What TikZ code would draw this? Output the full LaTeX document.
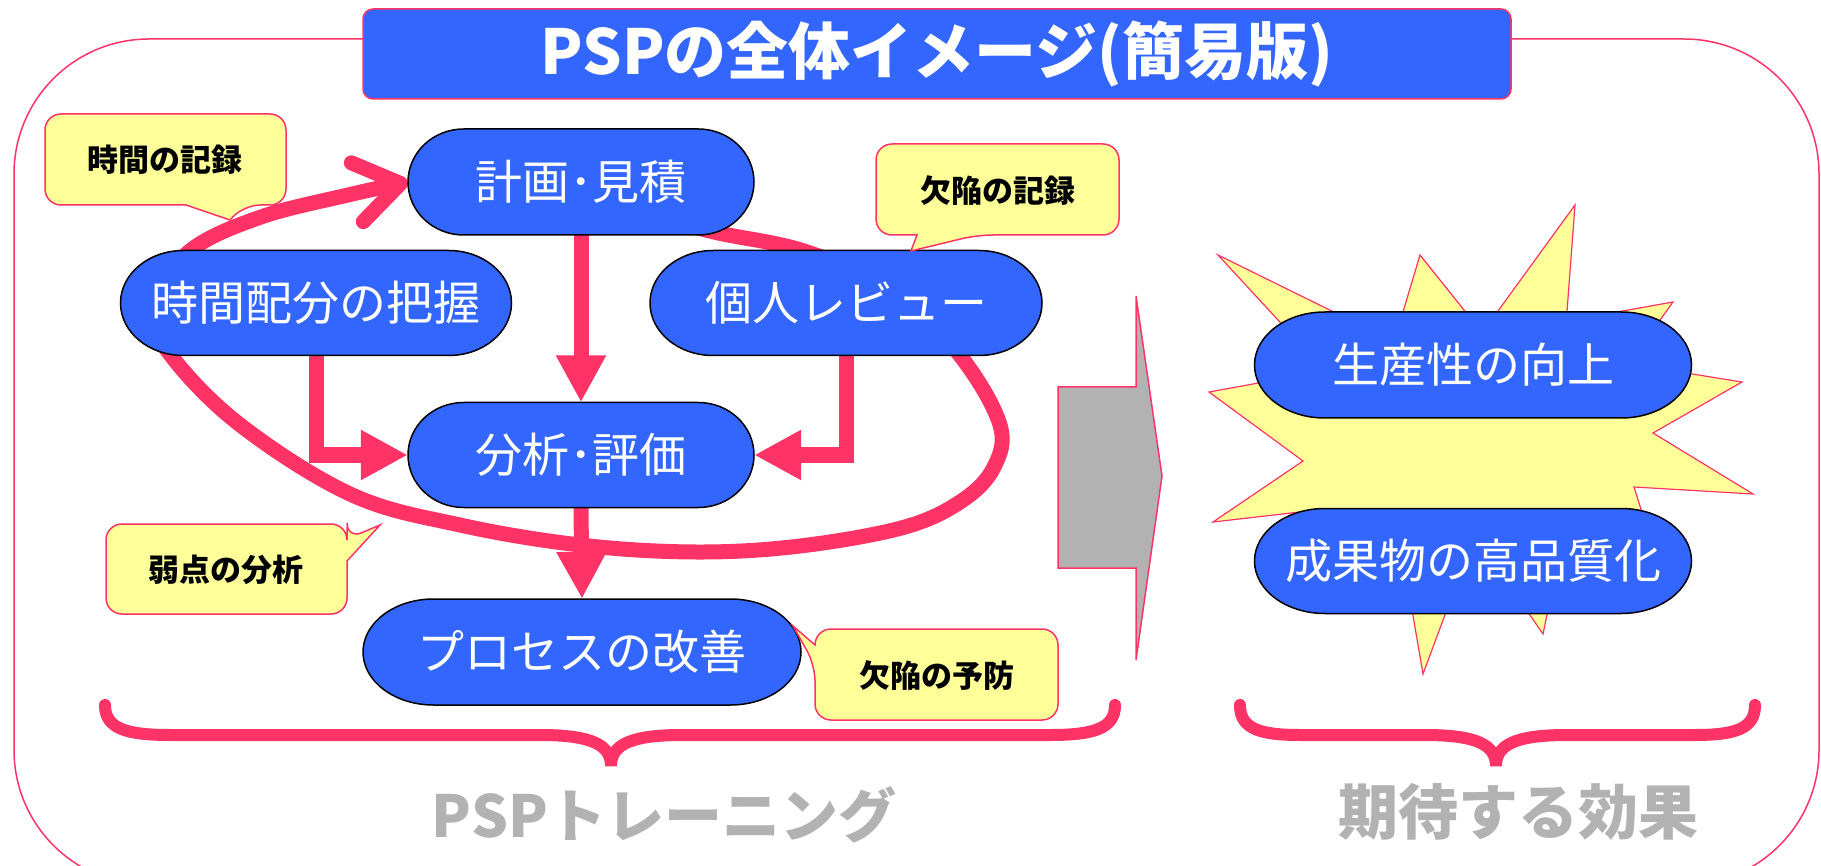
\documentclass[tikz,border=0pt]{standalone}
\usepackage{fontspec}
\setmainfont{Noto Sans CJK JP}
\usetikzlibrary{arrows.meta}
\definecolor{nblue}{HTML}{3366FF}
\definecolor{npink}{HTML}{FF3366}
\definecolor{nyellow}{HTML}{FFFF99}
\definecolor{ngray}{HTML}{B2B2B2}
\pgfdeclarelayer{bg}
\pgfsetlayers{bg,main}
% terminator-shaped node: name, cx, cy, w, h, text
\newcommand\termnode[6]{%
  \pgfmathsetmacro\TmRx{0.161*#4}%
  \pgfmathsetmacro\TmXa{#2-#4/2+\TmRx}%
  \pgfmathsetmacro\TmXb{#2+#4/2-\TmRx}%
  \pgfmathsetmacro\TmYa{#3-#5/2}%
  \pgfmathsetmacro\TmYb{#3+#5/2}%
  \pgfmathsetmacro\TmH{#5/2}%
  \draw[termshape] (\TmXa,\TmYa) -- (\TmXb,\TmYa)
     arc[start angle=-90,end angle=90,x radius=\TmRx,y radius=\TmH]
     -- (\TmXa,\TmYb)
     arc[start angle=90,end angle=270,x radius=\TmRx,y radius=\TmH] -- cycle;
  \node[termtext, minimum width=#4, minimum height=#5] (#1) at (#2,#3) {#6};
}
\begin{document}
\begin{tikzpicture}[x=1pt,y=-1pt,
  termshape/.style={draw=black, line width=1.5pt, fill=nblue},
  termtext/.style={text=white, font=\fontsize{47}{50}\selectfont, inner sep=0pt},
  callbox/.style={draw=npink, line width=1.5pt, fill=nyellow, rounded corners=16pt},
  calltext/.style={text=black, font=\fontsize{31}{36}\selectfont\bfseries, inner sep=0pt},
  conn/.style={draw=npink, line width=15pt, -{Triangle[length=47pt,width=47pt]}},
  loopline/.style={draw=npink, line width=15pt, -{Straight Barb[length=44pt,width=60pt,round]}},
  bracepath/.style={draw=npink, line width=12pt, line cap=round},
  bottomlabel/.style={text=ngray, font=\fontsize{60}{66}\selectfont\bfseries, inner sep=0pt},
  thinpink/.style={draw=npink, line width=1.5pt},
  ]
\useasboundingbox (0,0) rectangle (1821,866);

% outer frame
\draw[thinpink, rounded corners=135pt] (14,39) rectangle (1819,885);

% title
\node[thinpink, fill=nblue, rounded corners=10pt, minimum width=1148pt, minimum height=90pt,
      text=white, font=\fontsize{62}{68}\selectfont\bfseries, inner sep=0pt] (title) at (937,54)
      {PSPの全体イメージ(簡易版)};

% starburst
\draw[draw=npink, line width=1.2pt, fill=nyellow]
  (1218,255) -- (1350,320) -- (1400,322) -- (1420,255) -- (1472,320) -- (1490,322)
  -- (1575,205) -- (1566,325) -- (1600,315) -- (1673,302) -- (1650,334) -- (1680,372)
  -- (1742,382) -- (1653,433) -- (1753,494) -- (1634,487) -- (1645,522)
  -- (1549,605) -- (1543,634) -- (1523,605) -- (1449,604) -- (1423,674) -- (1411,604)
  -- (1300,512) -- (1213,522) -- (1303,461) -- (1209,392) -- (1275,380) -- (1290,333) -- cycle;

% big gray arrow
\draw[thinpink, fill=ngray] (1058,387) -- (1136,387) -- (1136,296) -- (1162,476)
  -- (1136,660) -- (1136,568) -- (1058,568) -- cycle;

% nodes
\termnode{plan}{581}{182}{346}{106}{計画･見積}
\termnode{time}{316}{303}{391}{105}{時間配分の把握}
\termnode{review}{846}{303}{392}{105}{個人レビュー}
\termnode{anal}{581}{455}{346}{105}{分析･評価}
\termnode{proc}{582}{652}{438}{106}{プロセスの改善}
\termnode{prod}{1473}{365}{437}{106}{生産性の向上}
\termnode{qual}{1473}{561}{437}{105}{成果物の高品質化}

% connectors (behind nodes)
\begin{pgfonlayer}{bg}
\coordinate (loopstart) at (640,212);
\draw[loopline] plot[smooth, tension=0.6] coordinates {
  (loopstart) (714,232) (807,252) (900,295) (962,358) (1000,425) (994,467) (963,500)
  (905,527) (800,546) (696,552) (580,545) (460,525) (350,494) (234,420) (162,343)
  (155,300) (191,250) (261,217) (348,195) (plan.west)};
\draw[conn] (plan.south) -- (anal.north);
\draw[conn] (time.south) |- (anal.west);
\draw[conn] (review.south) |- (anal.east);
\draw[conn] (anal.south) -- (proc.north);
\end{pgfonlayer}

% callouts
\draw[callbox] (160,114) -- (286,114) -- (286,205) -- (244,205) [sharp corners] -- (230,220) -- (186,205) [rounded corners=16pt] -- (45,205) -- (45,114) -- cycle;
\node[calltext] (c1) at (165,160) {時間の記録};
\draw[callbox] (1000,144) -- (1119,144) -- (1119,235) -- (977,235) [sharp corners] -- (911,251) -- (917,235) [rounded corners=16pt] -- (876,235) -- (876,144) -- cycle;
\node[calltext] (c2) at (998,191) {欠陥の記録};
\draw[callbox] (226,524) -- (347,524) -- (347,539) [sharp corners] -- (380,525) -- (347,561) [rounded corners=16pt] -- (347,614) -- (106,614) -- (106,524) -- cycle;
\node[calltext] (c3) at (226,570) {弱点の分析};
\draw[callbox] (936,629) -- (1058,629) -- (1058,720) -- (815,720) -- (815,665) [sharp corners] -- (793,626) -- (815,645) [rounded corners=16pt] -- (815,629) -- cycle;
\node[calltext] (c4) at (937,676) {欠陥の予防};

% braces
\draw[bracepath] (105,705) .. controls (105,728) and (125,735) .. (170,735) -- (540,735)
  .. controls (592,735) and (611,745) .. (611,766)
  .. controls (611,745) and (630,735) .. (682,735) -- (1050,735)
  .. controls (1095,735) and (1115,728) .. (1115,705);
\draw[bracepath] (1240,705) .. controls (1240,728) and (1258,735) .. (1300,735) -- (1425,735)
  .. controls (1477,735) and (1496,745) .. (1496,766)
  .. controls (1496,745) and (1515,735) .. (1567,735) -- (1695,735)
  .. controls (1737,735) and (1755,728) .. (1755,705);

% bottom labels
\node[bottomlabel, font=\fontsize{58}{64}\selectfont\bfseries] (lab1) at (664,815) {PSPトレーニング};
\node[bottomlabel] (lab2) at (1518,812) {期待する効果};
\end{tikzpicture}
\end{document}
